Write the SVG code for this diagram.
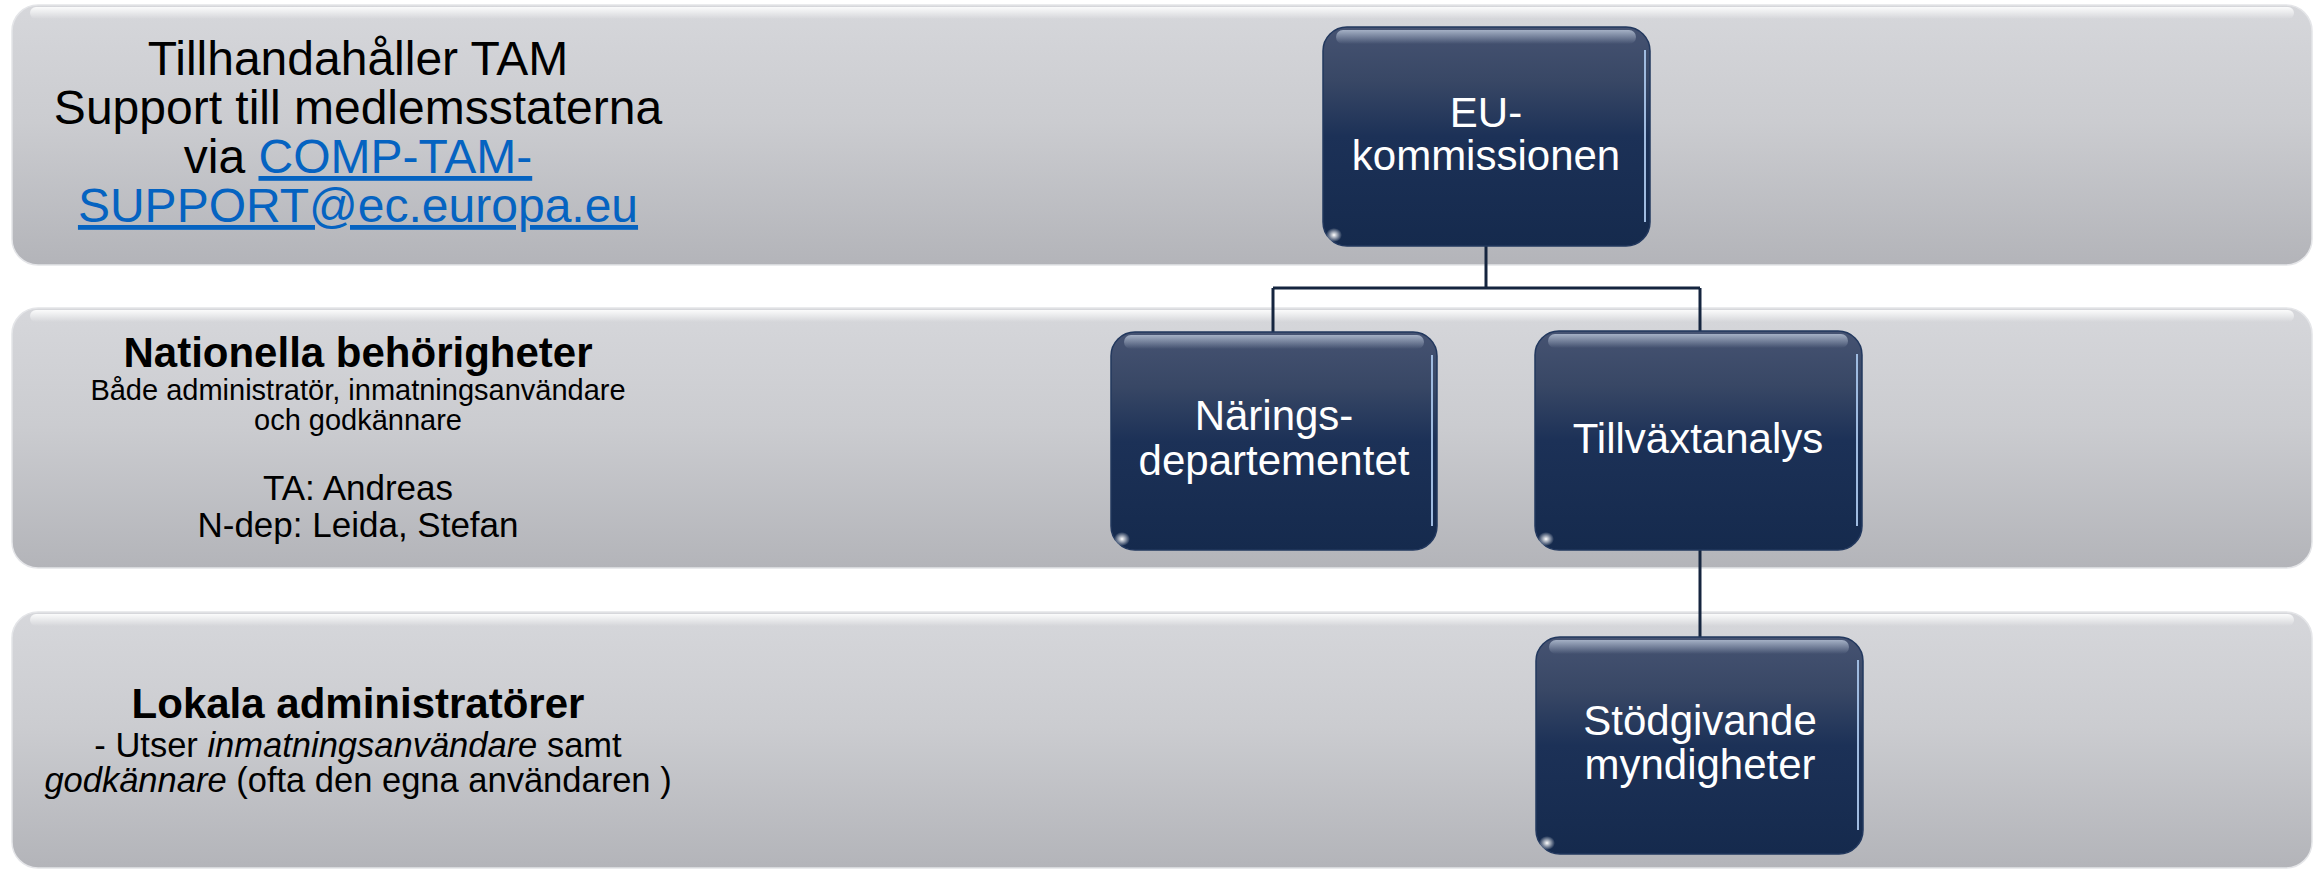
<svg xmlns="http://www.w3.org/2000/svg" width="2320" height="869" viewBox="0 0 2320 869">
  <defs>
    <linearGradient id="bandFill" x1="0" y1="0" x2="0" y2="1">
      <stop offset="0" stop-color="#d6d7db"/>
      <stop offset="0.45" stop-color="#cbccd0"/>
      <stop offset="1" stop-color="#b3b4b9"/>
    </linearGradient>
    <linearGradient id="bandHi" x1="0" y1="0" x2="0" y2="1">
      <stop offset="0" stop-color="#ffffff" stop-opacity="0.9"/>
      <stop offset="1" stop-color="#ffffff" stop-opacity="0"/>
    </linearGradient>
    <linearGradient id="nodeFill" x1="0" y1="0" x2="0" y2="1">
      <stop offset="0" stop-color="#465372"/>
      <stop offset="0.25" stop-color="#384765"/>
      <stop offset="0.5" stop-color="#1c3157"/>
      <stop offset="1" stop-color="#152a4d"/>
    </linearGradient>
    <linearGradient id="nodeHi" x1="0" y1="0" x2="0" y2="1">
      <stop offset="0" stop-color="#a9b5c9" stop-opacity="0.95"/>
      <stop offset="1" stop-color="#a9b5c9" stop-opacity="0"/>
    </linearGradient>
    <radialGradient id="spec" cx="0.5" cy="0.5" r="0.5">
      <stop offset="0" stop-color="#ffffff"/>
      <stop offset="1" stop-color="#ffffff" stop-opacity="0"/>
    </radialGradient>
  </defs>
  <style>
    .band { fill: url(#bandFill); stroke: #e4e5e8; stroke-width: 1.5; }
    .bandhi { fill: url(#bandHi); }
    .node { fill: url(#nodeFill); stroke: #22385e; stroke-width: 1.5; }
    .nodehi { fill: url(#nodeHi); }
    .noderim { fill: none; stroke: #9fbbe0; stroke-width: 2; }
    .spec { fill: url(#spec); }
    .conn { stroke: #15253f; stroke-width: 3; fill: none; }
    .t { font-family: "Liberation Sans", Arial, sans-serif; fill: #000; text-anchor: middle; }
    .nt { font-family: "Liberation Sans", Arial, sans-serif; fill: #ffffff; text-anchor: middle; font-size: 42px; }
    .link { fill: #0563c1; text-decoration: underline; }
  </style>

  <rect width="2320" height="869" fill="#ffffff"/>

  <g id="band-eu">
    <rect class="band" x="12" y="5" width="2300" height="260" rx="26" ry="26"/>
    <rect class="bandhi" x="30" y="7" width="2264" height="12" rx="6"/>
    <text class="t" font-size="48" x="358" y="75">Tillhandahåller TAM</text>
    <text class="t" font-size="48" x="358" y="124">Support till medlemsstaterna</text>
    <text class="t" font-size="48" x="358" y="173">via <tspan class="link">COMP-TAM-</tspan></text>
    <text class="t" font-size="48" x="358" y="222"><tspan class="link">SUPPORT@ec.europa.eu</tspan></text>
  </g>

  <g id="band-national">
    <rect class="band" x="12" y="308" width="2300" height="260" rx="26" ry="26"/>
    <rect class="bandhi" x="30" y="310" width="2264" height="12" rx="6"/>
    <text class="t" font-size="42" font-weight="bold" x="358" y="367">Nationella behörigheter</text>
    <text class="t" font-size="29" x="358" y="400">Både administratör, inmatningsanvändare</text>
    <text class="t" font-size="29" x="358" y="430">och godkännare</text>
    <text class="t" font-size="35" x="358" y="500">TA: Andreas</text>
    <text class="t" font-size="35" x="358" y="537">N-dep: Leida, Stefan</text>
  </g>

  <g id="band-local">
    <rect class="band" x="12" y="612" width="2300" height="256" rx="26" ry="26"/>
    <rect class="bandhi" x="30" y="614" width="2264" height="12" rx="6"/>
    <text class="t" font-size="42" font-weight="bold" x="358" y="718">Lokala administratörer</text>
    <text class="t" font-size="34.5" x="358" y="757">- Utser <tspan font-style="italic">inmatningsanvändare</tspan> samt</text>
    <text class="t" font-size="34.5" x="358" y="792"><tspan font-style="italic">godkännare</tspan> (ofta den egna användaren )</text>
  </g>

  <g id="connectors">
    <path class="conn" d="M1486 246 V288"/>
    <path class="conn" d="M1273 288 H1700"/>
    <path class="conn" d="M1273 288 V332"/>
    <path class="conn" d="M1700 288 V332"/>
    <path class="conn" d="M1700 550 V637"/>
  </g>

  <g id="node-eu">
    <rect class="node" x="1323" y="27" width="327" height="219" rx="24"/>
    <rect class="nodehi" x="1336" y="30" width="300" height="14" rx="7"/>
    <path class="noderim" d="M1645 50 V222"/>
    <ellipse class="spec" cx="1334" cy="235" rx="8" ry="7"/>
    <text class="nt" x="1486" y="127">EU-</text>
    <text class="nt" x="1486" y="170">kommissionen</text>
  </g>

  <g id="node-naring">
    <rect class="node" x="1111" y="332" width="326" height="218" rx="24"/>
    <rect class="nodehi" x="1124" y="335" width="300" height="14" rx="7"/>
    <path class="noderim" d="M1432 355 V526"/>
    <ellipse class="spec" cx="1122" cy="539" rx="8" ry="7"/>
    <text class="nt" x="1274" y="430">Närings-</text>
    <text class="nt" x="1274" y="475">departementet</text>
  </g>

  <g id="node-tillvaxt">
    <rect class="node" x="1535" y="331" width="327" height="219" rx="24"/>
    <rect class="nodehi" x="1548" y="334" width="300" height="14" rx="7"/>
    <path class="noderim" d="M1857 354 V526"/>
    <ellipse class="spec" cx="1546" cy="539" rx="8" ry="7"/>
    <text class="nt" x="1698" y="453">Tillväxtanalys</text>
  </g>

  <g id="node-stod">
    <rect class="node" x="1536" y="637" width="327" height="217" rx="24"/>
    <rect class="nodehi" x="1549" y="640" width="300" height="14" rx="7"/>
    <path class="noderim" d="M1858 660 V830"/>
    <ellipse class="spec" cx="1547" cy="843" rx="8" ry="7"/>
    <text class="nt" x="1700" y="735">Stödgivande</text>
    <text class="nt" x="1700" y="779">myndigheter</text>
  </g>
</svg>
